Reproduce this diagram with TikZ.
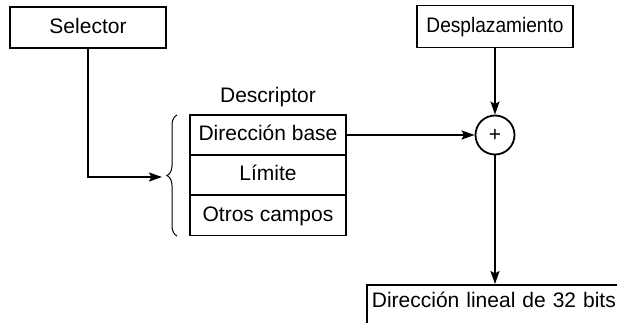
\documentclass[tikz,border=0pt]{standalone}
\usepackage{fontspec}
\setmainfont{Liberation Sans}
\usetikzlibrary{positioning,calc,arrows.meta,decorations.pathreplacing}

\begin{document}
\begin{tikzpicture}[x=0.5pt,y=-0.5pt,line width=0.9pt,
  font=\fontsize{10.5}{12.6}\selectfont,
  box/.style={draw,rectangle,inner sep=0pt,text height=8pt,text depth=2.2pt},
  field/.style={box,minimum width=78pt,minimum height=20pt},
  tag/.style={box,minimum width=78pt,minimum height=21pt},
  arr/.style={-{Stealth[length=6.5pt,width=4.5pt,inset=1.2pt]}}]
\useasboundingbox (0,0) rectangle (617,322);
\clip (0,0) rectangle (617,322);
\node[tag,minimum height=20.5pt] (sel) at (88,27.5) {Selector};
\node[tag] (desp) at (495,26.5) {\scalebox{0.91}[1]{Desplazamiento}};
\node[field] (base) at (268,135) {Dirección base};
\node[field] (lim) at (268,175) {Límite};
\node[field] (otros) at (268,215.5) {Otros campos};
\node[above=1pt of base,inner sep=2pt,text depth=2.2pt] (desc) {Descriptor};
\node[draw,circle,minimum size=19.5pt,inner sep=0pt] (sum) at (495,135) {+};
\node[box,anchor=north west,text width=140pt,align=left,inner xsep=2.5pt,inner ysep=3.5pt,text depth=20pt] (lin) at (366,284) {Dirección lineal de 32 bits};
\coordinate (tip) at (162,177);
% llave del descriptor
\draw[line width=0.5pt,decorate,decoration={brace,amplitude=5pt}] (177,236) -- (177,115);
\draw[arr] (sel.south) |- (tip);
\draw[arr] (base.east) -- (sum.west);
\draw[arr] (desp.south) -- (sum.north);
\draw[arr] (sum.south) -- (lin.north -| sum.south);
\end{tikzpicture}
\end{document}
